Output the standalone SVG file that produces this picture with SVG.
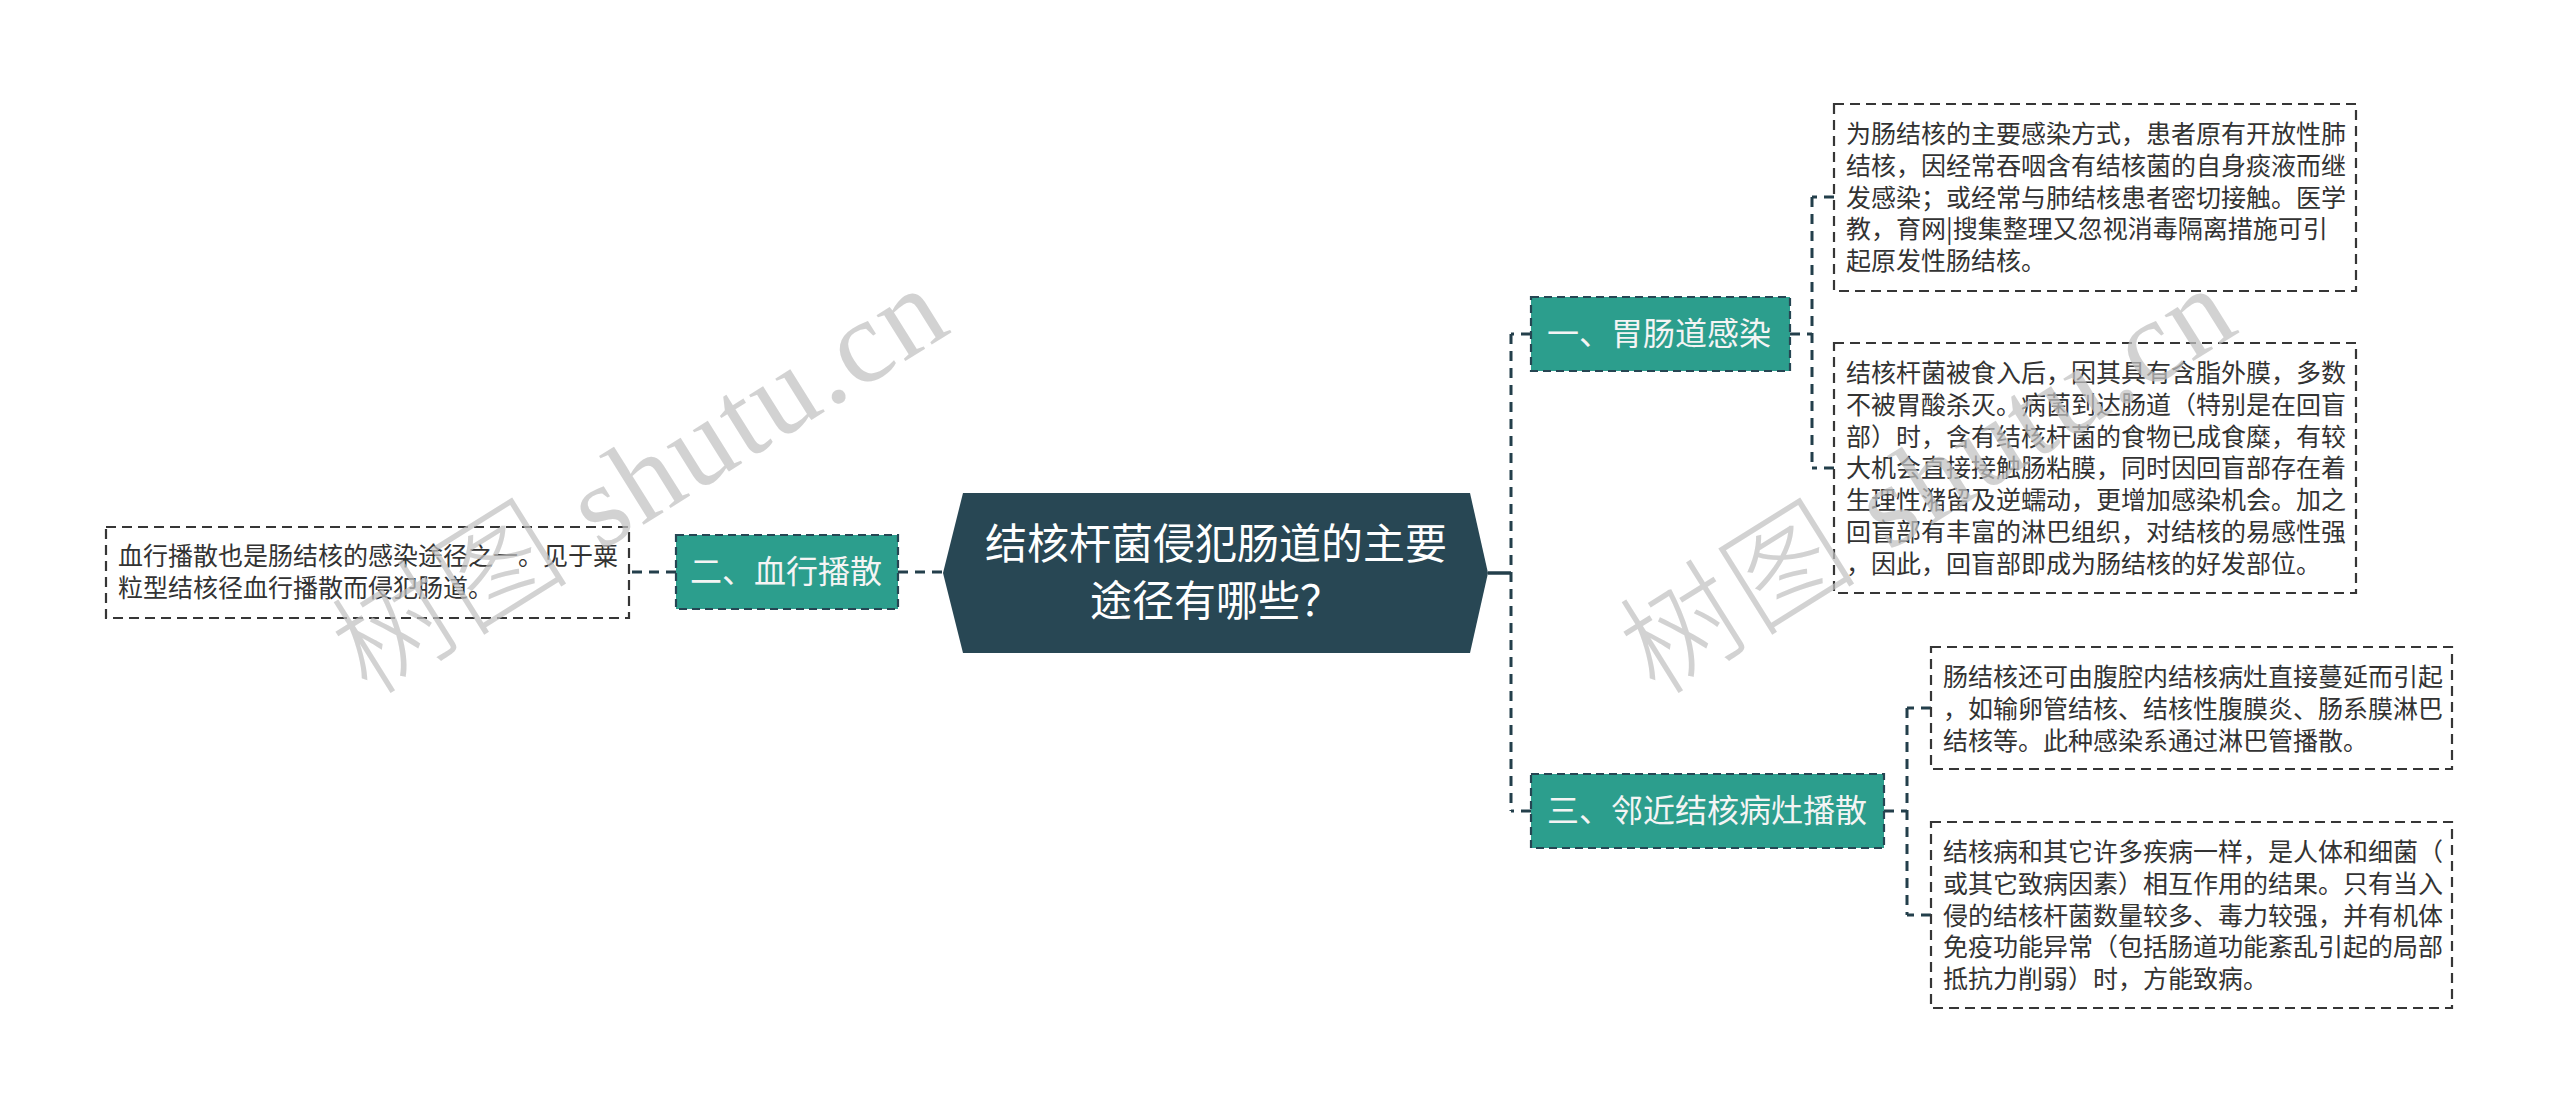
<svg xmlns="http://www.w3.org/2000/svg" width="2560" height="1113" viewBox="0 0 2560 1113">
<style>
.bg{fill:#ffffff}
.root{fill:#284754}
.roottxt{font-family:"Noto Sans CJK SC","Noto Sans",sans-serif;font-size:42px;fill:#ffffff;text-anchor:middle}
.sub{fill:#2c9e8d;stroke:#264653;stroke-width:2.2;stroke-dasharray:8 5}
.subtxt{font-family:"Noto Sans CJK SC","Noto Sans",sans-serif;font-size:32px;fill:#f4f4f4}
.leaf{fill:none;stroke:#363636;stroke-width:2.2;stroke-dasharray:10 6}
.leaftxt{font-family:"Noto Sans CJK SC","Noto Sans",sans-serif;font-size:25px;fill:#333333}
.conn{fill:none;stroke:#233f4b;stroke-width:3;stroke-dasharray:10 7}
.solid{fill:none;stroke:#233f4b;stroke-width:3.5}
.wm{font-size:118px;fill:#c2c2c2;opacity:0.72}
</style>
<rect class="bg" x="0" y="0" width="2560" height="1113"/>

<g id="connectors">
  <path class="solid" d="M1488,573 H1511"/>
  <path class="conn" d="M1511,334 V811"/>
  <path class="conn" d="M1531,334 H1511"/>
  <path class="conn" d="M1531,811 H1511"/>
  <path class="conn" d="M898,572 H945" stroke-dasharray="8 6 60"/>
  <path class="conn" d="M676,572 H629"/>
  <path class="conn" d="M1790,334 H1812"/>
  <path class="conn" d="M1812,197 V468"/>
  <path class="conn" d="M1834,197 H1812"/>
  <path class="conn" d="M1834,468 H1812"/>
  <path class="conn" d="M1884,811 H1907"/>
  <path class="conn" d="M1907,708 V915"/>
  <path class="conn" d="M1931,708 H1907"/>
  <path class="conn" d="M1931,915 H1907"/>
</g>

<g id="root">
  <polygon class="root" points="963,493 1470,493 1488,573 1470,653 963,653 943,573"/>
  <text class="roottxt" x="1216" y="559">结核杆菌侵犯肠道的主要</text>
  <text class="roottxt" x="1216" y="616">途径有哪些？</text>
</g>

<g id="n2">
  <rect class="sub" x="676" y="535" width="222" height="74"/>
  <text class="subtxt" x="690" y="583">二、血行播散</text>
</g>
<g id="n2-leaf">
  <rect class="leaf" x="106" y="527" width="523" height="91"/>
  <text class="leaftxt" x="118" y="565">血行播散也是肠结核的感染途径之一。见于粟</text>
  <text class="leaftxt" x="118" y="597">粒型结核径血行播散而侵犯肠道。</text>
</g>

<g id="n1">
  <rect class="sub" x="1531" y="297" width="259" height="74"/>
  <text class="subtxt" x="1547" y="345">一、胃肠道感染</text>
</g>
<g id="n1-leaf1">
  <rect class="leaf" x="1834" y="104" width="522" height="187"/>
  <text class="leaftxt" x="1846" y="143">为肠结核的主要感染方式，患者原有开放性肺</text>
  <text class="leaftxt" x="1846" y="175">结核，因经常吞咽含有结核菌的自身痰液而继</text>
  <text class="leaftxt" x="1846" y="207">发感染；或经常与肺结核患者密切接触。医学</text>
  <text class="leaftxt" x="1846" y="238">教，育网|搜集整理又忽视消毒隔离措施可引</text>
  <text class="leaftxt" x="1846" y="270">起原发性肠结核。</text>
</g>
<g id="n1-leaf2">
  <rect class="leaf" x="1834" y="343" width="522" height="250"/>
  <text class="leaftxt" x="1846" y="382">结核杆菌被食入后，因其具有含脂外膜，多数</text>
  <text class="leaftxt" x="1846" y="414">不被胃酸杀灭。病菌到达肠道（特别是在回盲</text>
  <text class="leaftxt" x="1846" y="446">部）时，含有结核杆菌的食物已成食糜，有较</text>
  <text class="leaftxt" x="1846" y="477">大机会直接接触肠粘膜，同时因回盲部存在着</text>
  <text class="leaftxt" x="1846" y="509">生理性潴留及逆蠕动，更增加感染机会。加之</text>
  <text class="leaftxt" x="1846" y="541">回盲部有丰富的淋巴组织，对结核的易感性强</text>
  <text class="leaftxt" x="1846" y="573">，因此，回盲部即成为肠结核的好发部位。</text>
</g>

<g id="n3">
  <rect class="sub" x="1531" y="774" width="353" height="74"/>
  <text class="subtxt" x="1547" y="822">三、邻近结核病灶播散</text>
</g>
<g id="n3-leaf1">
  <rect class="leaf" x="1931" y="647" width="521" height="122"/>
  <text class="leaftxt" x="1943" y="686">肠结核还可由腹腔内结核病灶直接蔓延而引起</text>
  <text class="leaftxt" x="1943" y="718">，如输卵管结核、结核性腹膜炎、肠系膜淋巴</text>
  <text class="leaftxt" x="1943" y="750">结核等。此种感染系通过淋巴管播散。</text>
</g>
<g id="n3-leaf2">
  <rect class="leaf" x="1931" y="822" width="521" height="186"/>
  <text class="leaftxt" x="1943" y="861">结核病和其它许多疾病一样，是人体和细菌（</text>
  <text class="leaftxt" x="1943" y="893">或其它致病因素）相互作用的结果。只有当入</text>
  <text class="leaftxt" x="1943" y="925">侵的结核杆菌数量较多、毒力较强，并有机体</text>
  <text class="leaftxt" x="1943" y="956">免疫功能异常（包括肠道功能紊乱引起的局部</text>
  <text class="leaftxt" x="1943" y="988">抵抗力削弱）时，方能致病。</text>
</g>

<g id="watermarks">
  <text class="wm" transform="translate(368,697) rotate(-32)" textLength="690" lengthAdjust="spacing"><tspan font-family="Noto Sans CJK SC, sans-serif" font-weight="300">树图</tspan><tspan font-family="Liberation Serif, serif"> shutu.cn</tspan></text>
  <text class="wm" transform="translate(1656,697) rotate(-32)" textLength="690" lengthAdjust="spacing"><tspan font-family="Noto Sans CJK SC, sans-serif" font-weight="300">树图</tspan><tspan font-family="Liberation Serif, serif"> shutu.cn</tspan></text>
</g>
</svg>
